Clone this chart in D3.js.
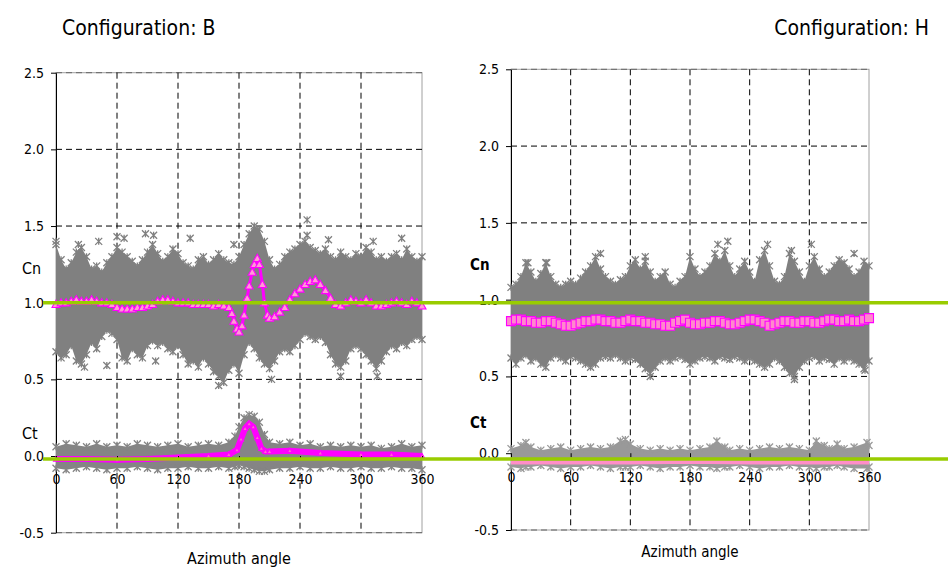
<!DOCTYPE html>
<html>
<head>
<meta charset="utf-8">
<script src="https://cdn.jsdelivr.net/npm/d3@7"></script>
<style>
  body { margin: 0; background: #fff; }
</style>
</head>
<body>
<script>
const FONT = '"DejaVu Sans Condensed", "DejaVu Sans", sans-serif';

// ---- axes ----
const xTicks = [0, 60, 120, 180, 240, 300, 360];
const yTicks = [-0.5, 0, 0.5, 1.0, 1.5, 2.0, 2.5];
// green reference lines drawn across the whole picture
const refLevels = [1.0, -0.02];

const angles = d3.range(0, 361, 5);

// ---- Configuration B ----
// Cn scatter cloud, upper / lower edge
const bCnHigh = [1.38, 1.28, 1.22, 1.26, 1.33, 1.36, 1.30, 1.22, 1.24, 1.20,
  1.26, 1.30, 1.36, 1.33, 1.30, 1.27, 1.24, 1.28, 1.33, 1.38,
  1.32, 1.27, 1.30, 1.35, 1.32, 1.26, 1.24, 1.22, 1.28, 1.30,
  1.25, 1.28, 1.32, 1.28, 1.26, 1.25, 1.30, 1.38, 1.45, 1.50,
  1.48, 1.40, 1.28, 1.22, 1.25, 1.30, 1.33, 1.35, 1.38, 1.40,
  1.36, 1.34, 1.32, 1.35, 1.30, 1.28, 1.33, 1.30, 1.28, 1.32,
  1.30, 1.36, 1.33, 1.28, 1.30, 1.27, 1.30, 1.32, 1.28, 1.35,
  1.30, 1.27, 1.30];
const bCnLow = [0.68, 0.64, 0.66, 0.72, 0.62, 0.60, 0.66, 0.74, 0.70, 0.78,
  0.82, 0.80, 0.76, 0.64, 0.62, 0.70, 0.66, 0.64, 0.72, 0.75,
  0.72, 0.74, 0.70, 0.68, 0.72, 0.66, 0.60, 0.62, 0.58, 0.64,
  0.60, 0.55, 0.52, 0.48, 0.56, 0.60, 0.54, 0.66, 0.74, 0.70,
  0.64, 0.60, 0.57, 0.62, 0.68, 0.70, 0.68, 0.72, 0.76, 0.80,
  0.78, 0.76, 0.78, 0.74, 0.66, 0.60, 0.58, 0.62, 0.70, 0.72,
  0.70, 0.66, 0.62, 0.57, 0.62, 0.68, 0.72, 0.70, 0.74, 0.72,
  0.76, 0.78, 0.76];
// Cn mean (triangles)
const bCnMeanAngle = [0, 5, 10, 15, 20, 25, 30, 35, 40, 45, 50, 55, 60, 65, 70, 75, 80, 85,
  90, 95, 100, 105, 110, 115, 120, 125, 130, 135, 140, 145, 150, 155, 160, 165, 170,
  173, 175, 178, 180, 183, 185, 188, 190, 193, 195, 198, 200, 203, 205, 208, 210,
  215, 220, 225, 230, 235, 240, 245, 250, 255, 260, 265, 270, 275, 280, 285, 290,
  295, 300, 305, 310, 315, 320, 325, 330, 335, 340, 345, 350, 355, 360];
const bCnMean = [0.99, 1.00, 1.00, 1.01, 1.02, 1.01, 1.01, 1.02, 1.01, 1.00, 1.00, 0.99, 0.97, 0.96, 0.96, 0.96, 0.97, 0.97,
  0.98, 0.99, 1.01, 1.02, 1.02, 1.01, 1.00, 1.00, 1.00, 0.99, 0.99, 0.99, 0.99, 0.98, 0.99, 0.98, 0.97,
  0.93, 0.88, 0.83, 0.81, 0.85, 0.92, 1.03, 1.11, 1.20, 1.25, 1.29, 1.25, 1.12, 1.00, 0.92, 0.90,
  0.91, 0.94, 0.97, 1.02, 1.06, 1.09, 1.12, 1.14, 1.15, 1.12, 1.08, 1.03, 0.99, 0.98, 1.00, 1.02,
  1.01, 1.00, 1.02, 1.00, 0.98, 0.98, 0.99, 1.00, 1.01, 1.00, 0.99, 1.01, 1.00, 0.98];
// Ct scatter band
const bCtAngle = [0, 10, 20, 30, 40, 50, 60, 70, 80, 90, 100, 110, 120, 130, 140, 150, 160, 170,
  176, 180, 185, 190, 195, 200, 205, 210,
  220, 230, 240, 250, 260, 270, 280, 290, 300, 310, 320, 330, 340, 350, 360];
const bCtHigh = [0.06, 0.08, 0.07, 0.06, 0.08, 0.06, 0.07, 0.06, 0.08, 0.07, 0.06, 0.07, 0.08, 0.06, 0.07, 0.08, 0.07, 0.09,
  0.13, 0.19, 0.25, 0.27, 0.26, 0.22, 0.14, 0.09,
  0.08, 0.09, 0.07, 0.08, 0.06, 0.07, 0.06, 0.07, 0.06, 0.07, 0.05, 0.06, 0.08, 0.06, 0.07];
const bCtLow = [-0.08, -0.09, -0.08, -0.07, -0.08, -0.09, -0.08, -0.08, -0.07, -0.08, -0.09, -0.08, -0.08, -0.07, -0.08, -0.08, -0.07, -0.08,
  -0.07, -0.06, -0.07, -0.08, -0.09, -0.10, -0.10, -0.09,
  -0.08, -0.08, -0.07, -0.08, -0.08, -0.07, -0.08, -0.08, -0.07, -0.08, -0.08, -0.07, -0.08, -0.08, -0.09];
// Ct mean
const bCtMeanAngle = [0, 30, 60, 90, 120, 150, 170, 178, 182, 186, 190, 194, 198, 202, 206, 210, 230, 260, 300, 330, 360];
const bCtMean = [-0.02, -0.02, -0.025, -0.02, -0.01, 0.0, 0.01, 0.04, 0.11, 0.18, 0.21, 0.19, 0.12, 0.05, 0.03, 0.03, 0.035, 0.02, 0.01, 0.01, 0.0];
// isolated asterisks outside the cloud [angle, value]
const bOutliers = [[0, 1.40], [22, 1.38], [42, 1.40], [60, 1.43], [67, 1.42], [88, 1.45], [96, 1.44],
  [132, 1.42], [175, 1.38], [247, 1.54], [247, 1.44], [268, 1.41], [312, 1.40], [340, 1.42],
  [28, 0.58], [50, 0.59], [98, 0.62], [160, 0.46], [212, 0.50], [280, 0.52], [316, 0.52]];

// ---- Configuration H ----
const hCnHigh = [1.08, 1.10, 1.15, 1.24, 1.18, 1.12, 1.17, 1.24, 1.15, 1.10,
  1.08, 1.10, 1.12, 1.10, 1.14, 1.18, 1.22, 1.28, 1.20, 1.15,
  1.12, 1.10, 1.13, 1.15, 1.22, 1.26, 1.20, 1.25, 1.18, 1.12,
  1.15, 1.18, 1.10, 1.08, 1.12, 1.15, 1.28, 1.20, 1.15, 1.18,
  1.22, 1.30, 1.25, 1.32, 1.22, 1.15, 1.20, 1.25, 1.18, 1.12,
  1.26, 1.32, 1.22, 1.12, 1.10, 1.15, 1.30, 1.25, 1.18, 1.12,
  1.22, 1.28, 1.20, 1.15, 1.18, 1.22, 1.26, 1.24, 1.20, 1.15,
  1.18, 1.25, 1.22];
const hCnLow = [0.62, 0.58, 0.62, 0.64, 0.60, 0.62, 0.58, 0.56, 0.62, 0.64,
  0.62, 0.60, 0.63, 0.62, 0.60, 0.58, 0.56, 0.58, 0.62, 0.63,
  0.62, 0.64, 0.62, 0.60, 0.62, 0.61, 0.58, 0.55, 0.52, 0.56,
  0.60, 0.62, 0.60, 0.62, 0.63, 0.61, 0.58, 0.60, 0.62, 0.63,
  0.62, 0.60, 0.63, 0.62, 0.61, 0.63, 0.62, 0.60, 0.62, 0.60,
  0.58, 0.56, 0.58, 0.62, 0.60, 0.56, 0.52, 0.50, 0.56, 0.60,
  0.62, 0.63, 0.60, 0.62, 0.61, 0.58, 0.62, 0.60, 0.62, 0.60,
  0.58, 0.55, 0.60];
// Cn mean (squares), same angles as envelopes
const hCnMean = [0.86, 0.87, 0.87, 0.86, 0.86, 0.85, 0.85, 0.86, 0.86, 0.85,
  0.84, 0.83, 0.83, 0.84, 0.85, 0.86, 0.86, 0.87, 0.87, 0.86,
  0.86, 0.85, 0.85, 0.86, 0.87, 0.86, 0.86, 0.85, 0.85, 0.84,
  0.84, 0.83, 0.83, 0.85, 0.86, 0.87, 0.85, 0.84, 0.84, 0.85,
  0.85, 0.86, 0.86, 0.85, 0.84, 0.84, 0.85, 0.86, 0.87, 0.87,
  0.86, 0.85, 0.83, 0.84, 0.85, 0.86, 0.86, 0.85, 0.85, 0.86,
  0.86, 0.85, 0.85, 0.86, 0.87, 0.87, 0.86, 0.86, 0.87, 0.86,
  0.86, 0.87, 0.88];
const hCtAngle = [0, 10, 15, 20, 30, 40, 50, 60, 70, 80, 90, 100, 110, 115, 120, 130, 140, 150, 160, 170, 180,
  190, 200, 207, 215, 220, 230, 240, 250, 260, 270, 280, 290, 300, 307, 315, 320, 328, 335, 345, 358, 360];
const hCtHigh = [0.03, 0.05, 0.07, 0.04, 0.02, 0.03, 0.04, 0.02, 0.03, 0.04, 0.03, 0.04, 0.08, 0.09, 0.06, 0.03, 0.02, 0.03, 0.02, 0.03, 0.02,
  0.03, 0.04, 0.08, 0.04, 0.02, 0.03, 0.02, 0.03, 0.04, 0.03, 0.04, 0.03, 0.02, 0.08, 0.05, 0.03, 0.06, 0.03, 0.04, 0.07, 0.05];
const hCtLow = [-0.09, -0.10, -0.09, -0.09, -0.08, -0.09, -0.10, -0.09, -0.09, -0.08, -0.09, -0.10, -0.09, -0.09, -0.09, -0.08, -0.09, -0.10, -0.09, -0.09, -0.08,
  -0.09, -0.09, -0.10, -0.09, -0.09, -0.08, -0.09, -0.10, -0.09, -0.09, -0.08, -0.09, -0.09, -0.10, -0.09, -0.09, -0.08, -0.09, -0.10, -0.10, -0.09];
const hCtMeanAngle = [0, 60, 120, 180, 240, 300, 360];
const hCtMean = [-0.06, -0.06, -0.06, -0.055, -0.06, -0.06, -0.06];
const hOutliers = [[17, 1.24], [36, 1.24], [90, 1.30], [135, 1.28], [208, 1.36], [218, 1.38], [258, 1.36],
  [282, 1.32], [302, 1.36], [345, 1.30], [140, 0.50], [285, 0.48], [356, 0.54]];

// ------------------------ D3 ------------------------
const svg = d3.select("body").append("svg").attr("width", 948).attr("height", 569);

const star = s => `M${-s},${-s}L${s},${s}M${-s},${s}L${s},${-s}M0,${-s}L0,${s}`;
const tri = s => `M0,${-s}L${s},${s * 0.8}L${-s},${s * 0.8}Z`;
const sq = s => `M${-s},${-s}h${2 * s}v${2 * s}h${-2 * s}Z`;

function panel(p) {
  const x = d3.scaleLinear().domain([0, 360]).range([p.left, p.right]);
  const y = d3.scaleLinear().domain([-0.5, 2.5]).range([p.bottom, p.top]);
  const g = svg.append("g");

  // plot frame + grid
  g.append("rect")
    .attr("x", p.left).attr("y", p.top)
    .attr("width", p.right - p.left).attr("height", p.bottom - p.top)
    .attr("fill", "none").attr("stroke", "#a0a0a0");
  g.selectAll(".gy").data(yTicks).join("line")
    .attr("x1", p.left).attr("x2", p.right)
    .attr("y1", d => y(d)).attr("y2", d => y(d))
    .attr("stroke", d => (d === 2.5 || d === -0.5) ? "#666" : "#000")
    .attr("stroke-dasharray", "6,4");
  g.selectAll(".gx").data(xTicks.slice(1, -1)).join("line")
    .attr("x1", d => x(d)).attr("x2", d => x(d))
    .attr("y1", p.top).attr("y2", p.bottom)
    .attr("stroke", "#000").attr("stroke-dasharray", "6,4");

  // y axis
  const ya = g.append("g").attr("transform", `translate(${p.left},0)`)
    .call(d3.axisLeft(y).tickValues(yTicks).tickFormat(d => d.toFixed(1))
      .tickSize(5).tickSizeOuter(0).tickPadding(7));
  ya.attr("font-family", FONT).attr("font-size", 14);
  ya.selectAll("text").attr("fill", "#000");

  // scatter clouds
  p.clouds.forEach(c => {
    const pts = c.angle.map((a, i) => ({ a, hi: c.high[i], lo: c.low[i] }));
    g.append("path").datum(pts)
      .attr("d", d3.area().x(d => x(d.a)).y0(d => y(d.lo)).y1(d => y(d.hi)))
      .attr("fill", c.color);
    g.selectAll(null).data(pts.flatMap(d => [[d.a, d.hi], [d.a, d.lo]]).concat(c.extra || []))
      .join("path")
      .attr("d", star(3.5))
      .attr("transform", d => `translate(${x(d[0])},${y(d[1])})`)
      .attr("fill", "none").attr("stroke", c.color).attr("stroke-width", 1.3);
  });

  // mean series
  p.means.forEach(m => {
    const pts = m.angle.map((a, i) => [a, m.value[i]]);
    g.append("path").datum(pts)
      .attr("d", d3.line().x(d => x(d[0])).y(d => y(d[1])))
      .attr("fill", "none").attr("stroke", m.line).attr("stroke-width", m.width);
    if (m.marker) {
      g.selectAll(null).data(pts).join("path")
        .attr("d", m.marker)
        .attr("transform", d => `translate(${x(d[0])},${y(d[1])})`)
        .attr("fill", m.fill).attr("stroke", m.line).attr("stroke-width", 1.1);
    }
  });

  // x axis labels at y = 0
  const xa = g.append("g").attr("transform", `translate(0,${y(0)})`)
    .call(d3.axisBottom(x).tickValues(xTicks).tickFormat(d3.format("d"))
      .tickSize(4).tickSizeOuter(0).tickPadding(p.xPad));
  xa.select(".domain").remove();
  xa.attr("font-family", FONT).attr("font-size", 14);
  xa.selectAll("text").attr("fill", "#000");

  // texts
  const txt = (t, tx, ty, size, weight, anchor) => svg.append("text")
    .attr("x", tx).attr("y", ty).attr("font-family", FONT)
    .attr("font-size", size).attr("font-weight", weight)
    .attr("text-anchor", anchor).text(t);
  txt(p.title, p.titleX, 35, 21, "normal", p.titleAnchor);
  txt("Cn", p.cnX, p.cnY, p.lblSize, p.lblWeight, "start");
  txt("Ct", p.cnX, p.ctY, p.lblSize, p.lblWeight, "start");
  txt("Azimuth angle", (p.left + p.right) / 2, p.azY, p.azSize, "normal", "middle");

  return y;
}

const yLeft = panel({
  left: 56, right: 422, top: 72.7, bottom: 532.7, xPad: 14,
  title: "Configuration: B", titleX: 62, titleAnchor: "start",
  cnX: 22, cnY: 274, ctY: 439, lblSize: 16, lblWeight: "normal",
  azY: 564, azSize: 16,
  clouds: [
    { angle: angles, high: bCnHigh, low: bCnLow, color: "#808080", extra: bOutliers },
    { angle: bCtAngle, high: bCtHigh, low: bCtLow, color: "#858585" }
  ],
  means: [
    { angle: bCnMeanAngle, value: bCnMean, line: "#ff00ff", width: 3, marker: tri(4), fill: "#ff9ad5" },
    { angle: bCtMeanAngle, value: bCtMean, line: "#ff00ff", width: 6, marker: tri(2.5), fill: "#ff66cc" }
  ]
});

panel({
  left: 511, right: 869, top: 69.3, bottom: 530, xPad: 15,
  title: "Configuration: H", titleX: 929, titleAnchor: "end",
  cnX: 470, cnY: 270, ctY: 428, lblSize: 15, lblWeight: "bold",
  azY: 557, azSize: 15,
  clouds: [
    { angle: angles, high: hCnHigh, low: hCnLow, color: "#808080", extra: hOutliers },
    { angle: hCtAngle, high: hCtHigh, low: hCtLow, color: "#999999" }
  ],
  means: [
    { angle: angles, value: hCnMean, line: "#ff00ff", width: 6, marker: sq(4.5), fill: "#ff88cc" },
    { angle: hCtMeanAngle, value: hCtMean, line: "#ff8ec8", width: 4 }
  ]
});

// green reference lines across both panels
svg.selectAll(".ref").data(refLevels).join("line")
  .attr("x1", 43).attr("x2", 948)
  .attr("y1", d => yLeft(d)).attr("y2", d => yLeft(d))
  .attr("stroke", "#99cc00").attr("stroke-width", 3.5);
</script>
</body>
</html>
